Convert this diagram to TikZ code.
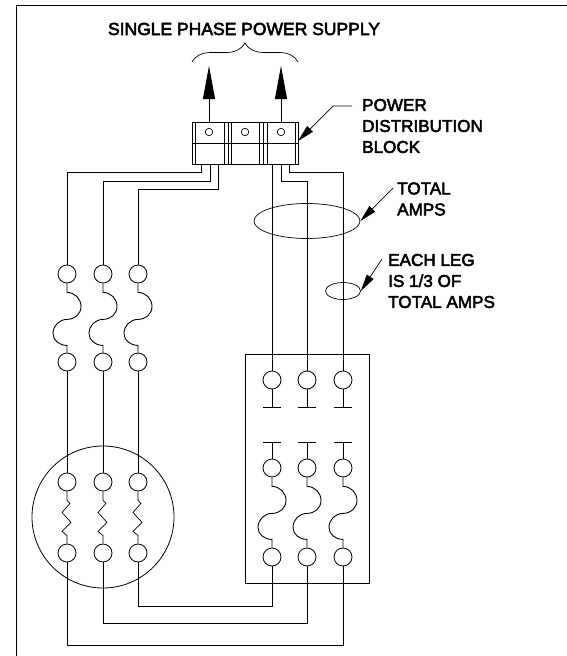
\documentclass[tikz,border=0pt]{standalone}
\usepackage{fontspec}
\setmainfont{Liberation Sans}[BoldFont={Liberation Sans},BoldFeatures={FakeBold=3}]
\usetikzlibrary{arrows.meta,decorations.pathreplacing,shapes.geometric}
\tikzset{
  wire/.style={line width=0.9pt},
  thin wire/.style={line width=0.7pt},
  term/.style={draw,circle,line width=0.8pt,minimum size=18pt,inner sep=0pt},
  lug/.style={draw,circle,line width=0.7pt,minimum size=7.5pt,inner sep=0pt},
  note/.style={font=\fontsize{17.1pt}{21pt}\selectfont\bfseries,align=left,anchor=west,inner sep=0pt},
  title/.style={font=\fontsize{17.5pt}{21pt}\selectfont\bfseries,inner sep=0pt},
  pointer/.style={line width=0.7pt,-{Triangle[length=17pt,width=8pt]}},
  lift/.style={line width=0.8pt,-{Triangle[length=33pt,width=12pt]}}
}
\newcommand{\sbend}{
 .. controls +(7.7,0) and +(0,-7.7) .. ++(14,14)
 .. controls +(0,7.7) and +(7.7,0) .. ++(-14,13)
 .. controls +(-7.7,0) and +(0,-7.7) .. ++(-14,14)
 .. controls +(0,7) and +(-7.7,0) .. ++(14,12)
}
\begin{document}
\begin{tikzpicture}[x=1pt,y=-1pt]
\useasboundingbox (0,0) rectangle (567,656);
\draw[line width=1pt] (16,657) -- (16,5) -- (568,5);

% distribution block
\draw[line width=0.8pt] (192,122) rectangle (298,164);
\draw[line width=0.8pt] (192,143) -- (298,143);
\foreach \xb in {195,224,228,231,259,263,267,295}
  \draw[line width=0.8pt] (\xb,122) -- (\xb,164);
\node[lug] (lugA) at (209,132) {};
\node[lug] (lugB) at (245,132) {};
\node[lug] (lugC) at (281,132) {};
\coordinate (outA) at (209,66);
\coordinate (outC) at (281,66);
\draw[lift] (209,122) -- (outA);
\draw[lift] (281,122) -- (outC);
\draw[line width=0.7pt,decorate,decoration={brace,amplitude=19pt}] (192,62) -- (298,62);
\node[title] (supply) at (244,29) {SINGLE PHASE POWER SUPPLY};

% motor
\node[draw,circle,line width=0.8pt,minimum size=142pt,inner sep=0pt] (motor) at (103,517) {};
\foreach \xm/\nm in {67/a,103/b,138/c}{
  \node[term] (top\nm) at (\xm,274) {};
  \node[term] (mid\nm) at (\xm,362) {};
  \node[term] (low\nm) at (\xm,482) {};
  \node[term] (end\nm) at (\xm,553) {};
  \draw[wire] (top\nm.south) -- ++(0,9) \sbend -- (mid\nm.north);
  \draw[wire] (mid\nm) -- (low\nm);
  \draw[thin wire] (low\nm.south) -- ++(0,9) -- ++(3,3) -- ++(-8,9) -- ++(9,10) -- ++(-9,9) -- ++(5,4) -- (end\nm.north);
}

% starter
\draw[line width=0.9pt] (245,354) rectangle (369,583);
\foreach \xs/\nm in {272/a,307/b,343/c}{
  \node[term] (in\nm) at (\xs,380) {};
  \node[term] (ol\nm) at (\xs,468) {};
  \node[term] (out\nm) at (\xs,557) {};
  \draw[wire] (in\nm) -- (\xs,407);
  \draw[wire] (\xs-9,407) -- (\xs+9,407);
  \draw[wire] (\xs-9,442) -- (\xs+9,442);
  \draw[wire] (\xs,442) -- (ol\nm);
  \draw[wire] (ol\nm.south) -- ++(0,9) \sbend -- (out\nm.north);
}

% line side
\draw[wire] (topa) |- (201,172) -- (201,164);
\draw[wire] (topb) |- (210,181) -- (210,164);
\draw[wire] (topc) |- (218,189) -- (218,164);
\draw[wire] (272,164) -- (ina);
\draw[wire] (281,164) |- (307,181) -- (inb);
\draw[wire] (289,164) |- (343,172) -- (inc);

% load side
\draw[wire] (endc) -- (138,606) -- (272,606) -- (outa);
\draw[wire] (endb) -- (103,623) -- (307,623) -- (outb);
\draw[wire] (enda) -- (67,645) -- (343,645) -- (outc);

% notes
\node[note] (block) at (362,126) {POWER\\DISTRIBUTION\\BLOCK};
\coordinate (blockend) at (333,106);
\draw[pointer] (352,106) -- (blockend) -- (298,141);
\node[draw,ellipse,line width=0.7pt,minimum width=106pt,minimum height=35pt,inner sep=0pt] (total) at (307,221) {};
\node[draw,ellipse,line width=0.7pt,minimum width=35pt,minimum height=17pt,inner sep=0pt] (leg) at (343,291) {};
\node[note] (totalamps) at (397,199) {TOTAL\\AMPS};
\node[note] (eachleg) at (388,281) {EACH LEG\\IS 1/3 OF\\TOTAL AMPS};
\coordinate (totalend) at (393,188);
\coordinate (legend) at (382,259);
\draw[pointer] (totalend) -- (total.east);
\draw[pointer] (legend) -- (leg.east);
\end{tikzpicture}
\end{document}
